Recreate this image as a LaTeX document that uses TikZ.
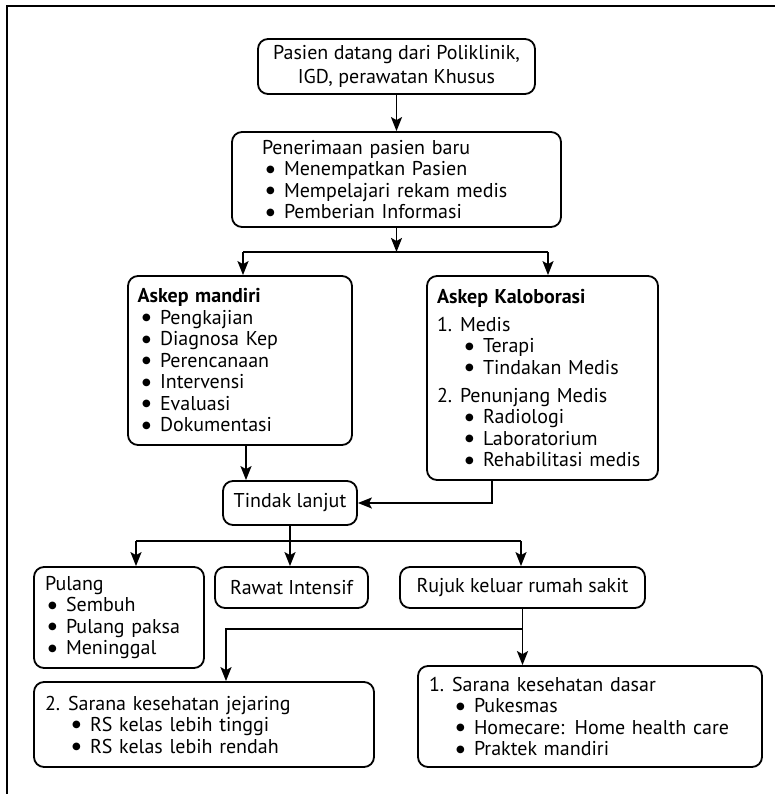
\documentclass[tikz,border=0pt]{standalone}
\usepackage{fontspec}
\setmainfont{PT Sans}
\newfontfamily\bulfont{DejaVu Sans}
\usetikzlibrary{arrows.meta}
% round list marker
\newcommand{\dotmark}{\raisebox{3.6pt}{\bulfont\fontsize{10}{10}\selectfont\char"25CF}}
% bullet item: left indent, then marker in a fixed-width slot, then the text
\newcommand{\itm}[2]{\mbox{\hspace*{#1}\makebox[18pt][l]{\dotmark}#2}}
% numbered heading: number in a fixed-width slot
\newcommand{\numd}[2]{\mbox{\makebox[23pt][l]{#1}#2}}
\begin{document}
\begin{tikzpicture}[x=1pt,y=-1pt,
  box/.style={draw,line width=1.8pt,rounded corners=10pt,inner sep=0pt,
              font=\fontsize{20}{21.5}\selectfont},
  lbox/.style={box,align=left},
  cbox/.style={box,align=center},
  link/.style={line width=1.7pt},
  arr/.style={link,-{Stealth[length=14pt,width=11pt,inset=3pt]}}]

\useasboundingbox (0,0) rectangle (775,794);
\draw[line width=2.5pt] (7,794) -- (7,6) -- (775,6);

% entry
\node[cbox,minimum width=277pt,minimum height=55pt,
      font=\fontsize{20}{24}\selectfont] (arrive) at (396.5,66.5)
  {Pasien datang dari Poliklinik,\\IGD, perawatan Khusus};

% admission
\node[lbox,inner xsep=30pt,text width=269pt,minimum height=95pt] (admit) at (396.5,179.5)
  {Penerimaan pasien baru\\
   \itm{4pt}{Menempatkan Pasien}\\
   \itm{4pt}{Mempelajari rekam medis}\\
   \itm{4pt}{Pemberian Informasi}};

% nursing care
\node[lbox,inner xsep=9.5pt,text width=205pt,minimum height=169pt] (selfcare) at (240,360.5)
  {\textbf{Askep mandiri}\\
   \itm{4.5pt}{Pengkajian}\\
   \itm{4.5pt}{Diagnosa Kep}\\
   \itm{4.5pt}{Perencanaan}\\
   \itm{4.5pt}{Intervensi}\\
   \itm{4.5pt}{Evaluasi}\\
   \itm{4.5pt}{Dokumentasi}};

\node[lbox,inner xsep=10pt,text width=211pt,minimum height=204pt] (collab) at (542.5,378)
  {\textbf{Askep Kaloborasi}\\[6.5pt]
   \numd{1.}{Medis}\\
   \itm{28pt}{Terapi}\\
   \itm{28pt}{Tindakan Medis}\\[6.5pt]
   \numd{2.}{Penunjang Medis}\\
   \itm{28pt}{Radiologi}\\
   \itm{28pt}{Laboratorium}\\
   \itm{28pt}{Rehabilitasi medis}};

% follow-up
\node[cbox,minimum width=134pt,minimum height=44pt] (follow) at (290,503) {Tindak lanjut};

\node[lbox,inner xsep=11pt,text width=148pt,minimum height=101pt] (home) at (119,617.5)
  {Pulang\\
   \itm{3pt}{Sembuh}\\
   \itm{3pt}{Pulang paksa}\\
   \itm{3pt}{Meninggal}};
\node[cbox,minimum width=153pt,minimum height=41pt] (icu) at (291.5,587.5) {Rawat Intensif};
\node[cbox,minimum width=245pt,minimum height=41pt] (refer) at (522.5,587.5) {Rujuk keluar rumah sakit};

% referral targets
\node[lbox,inner xsep=11pt,text width=318pt,minimum height=85pt] (network) at (204,724.5)
  {\numd{2.}{Sarana kesehatan jejaring}\\
   \itm{27pt}{RS kelas lebih tinggi}\\
   \itm{27pt}{RS kelas lebih rendah}};
\node[lbox,inner xsep=11pt,text width=322pt,minimum height=101pt] (basic) at (590,716.5)
  {\numd{1.}{Sarana kesehatan dasar}\\
   \itm{27pt}{Pukesmas}\\
   \itm{27pt}{Homecare: Home health care}\\
   \itm{27pt}{Praktek mandiri}};

% connectors
\coordinate (sL) at (243,252);
\coordinate (sR) at (548,252);
\coordinate (jL) at (136,541);
\coordinate (jR) at (521,541);
\coordinate (k) at (226,629);

\draw[arr] (arrive) -- (admit);
\draw[arr] (admit.south) -- (admit.south |- sL);
\draw[link] (sL) -- (sR);
\draw[arr] (sL) -- (sL |- selfcare.north);
\draw[arr] (sR) -- (sR |- collab.north);

\draw[arr] ([xshift=6pt]selfcare.south) -- ([xshift=6pt]selfcare.south |- follow.north);
\draw[arr] ([xshift=-50.5pt]collab.south) |- (follow.east);

\draw[arr] (follow.south) -- (follow.south |- icu.north);
\draw[link] (jL) -- (jR);
\draw[arr] (jL) -- (jL |- home.north);
\draw[arr] (jR) -- (jR |- refer.north);

\draw[arr] (refer.south) -- (refer.south |- basic.north);
\draw[arr] (refer.south |- k) -- (k) -- (k |- network.north);
\end{tikzpicture}
\end{document}
